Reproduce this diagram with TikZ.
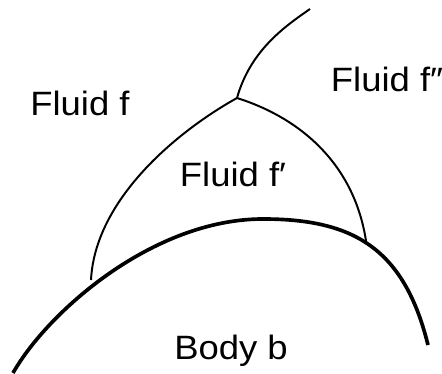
\documentclass[tikz,border=0pt]{standalone}
\usepackage{fontspec}
\setmainfont{Liberation Sans}
\newcommand{\stretchx}[1]{\scalebox{1.08}[1]{#1}}

\begin{document}
\begin{tikzpicture}[x=0.025cm, y=-0.025cm,
  wall/.style={line width=2.6pt},
  iface/.style={line width=1.4pt},
  lbl/.style={font=\fontsize{24}{28}\selectfont, inner sep=0pt, anchor=base}
]
\useasboundingbox (0,0) rectangle (442,374);

% body outline and the three interfaces meeting at the triple point
\coordinate (bodyL) at (13,373);
\coordinate (bodyTop) at (263,219);
\coordinate (bodyR) at (428,345);
\coordinate (junc) at (237,98);
\coordinate (contactL) at (91,280);
\coordinate (contactR) at (366,241);
\coordinate (freeEnd) at (310,9);

\draw[wall] (bodyL) .. controls +(34.5,-61) and +(-110,0) .. (bodyTop)
  .. controls +(90,0) and +(-24,-97) .. (bodyR);
\draw[iface] (junc) .. controls +(13.5,-48) and +(-24.6,17.1) .. (freeEnd);
\draw[iface] (junc) .. controls +(-61,34) and +(4,-80) .. (contactL);
\draw[iface] (junc) .. controls +(66.5,21) and +(-11.25,-74.25) .. (contactR);

\node[lbl] (fluidF) at (80,116) {\stretchx{Fluid f}};
\node[lbl] (fluidFpp) at (387,92) {\stretchx{Fluid f″}};
\node[lbl] (fluidFp) at (233,187) {\stretchx{Fluid f′}};
\node[lbl] (body) at (231,359) {\stretchx{Body b}};
\end{tikzpicture}
\end{document}
